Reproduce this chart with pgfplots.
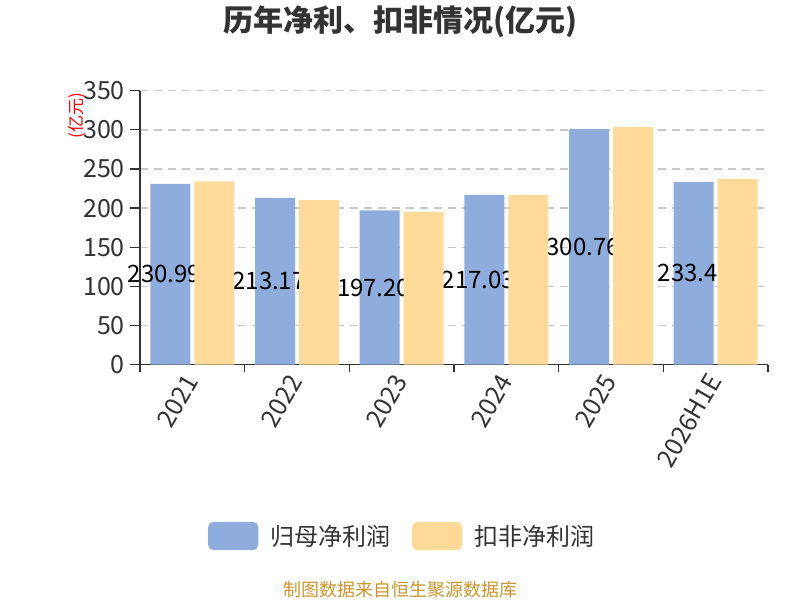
\documentclass[border=0pt]{standalone}
\usepackage{pgfplots}
\pgfplotsset{compat=1.18}
\usepackage{fontspec}
\setmainfont{Noto Sans CJK SC}
\definecolor{cblue}{HTML}{8FADDC}
\definecolor{cyellow}{HTML}{FFDA99}
\definecolor{ctext}{HTML}{333333}
\definecolor{cgrid}{HTML}{C8C8C8}
\definecolor{csrc}{HTML}{C8962D}
\pgfplotsset{
  common/.style={
    at={(140pt,235.3pt)}, anchor=south west,
    scale only axis, width=628pt, height=274pt,
    xmin=-0.5, xmax=5.5, ymin=0, ymax=350,
    ybar, bar width=40pt,
  }
}
\pgfplotstableread{
x y label
0 230.99 230.99
1 213.17 213.17
2 197.20 197.20
3 217.03 217.03
4 300.76 300.76
5 233.4 233.4
}\guimu
\pgfplotstableread{
x y
0 234.2
1 210.3
2 195.0
3 216.7
4 303.6
5 237.1
}\koufei
\begin{document}
\begin{tikzpicture}
\useasboundingbox (0,0) rectangle (800pt,600pt);
\begin{axis}[
  common,
  ytick={0,50,...,350},
  xtick={0,...,5},
  xticklabels={2021,2022,2023,2024,2025,2026H1E},
  minor xtick={-0.5,0.5,...,5.5},
  axis lines=left, axis line style={-, draw=ctext, line width=1.3pt},
  tick align=outside,
  major tick length=10pt, minor tick length=7pt,
  every tick/.style={draw=ctext, line width=1.3pt},
  major x tick style={draw=none},
  ymajorgrids, grid style={cgrid, line width=1.4pt, dash pattern=on 8pt off 6pt},
  /pgf/number format/assume math mode=true,
  ticklabel style={font=\fontsize{25}{29}\selectfont, text=ctext},
  xticklabel style={rotate=60, anchor=east, inner sep=2pt},
  yticklabel style={inner sep=5pt},
  legend columns=2,
  legend image code/.code={\fill[#1, rounded corners=5pt] (0pt,-14pt) rectangle (50pt,14pt);},
  legend style={at={(0.416,-0.625)}, anchor=center, draw=none, fill=none,
    font=\fontsize{24}{28}\selectfont, text=ctext,
    column sep=12pt, nodes={inner xsep=0pt},
    /tikz/every even column/.append style={column sep=22pt}},
]
\addplot[fill=cblue, draw=none, bar shift=-22pt,
  nodes near coords, point meta=explicit symbolic,
  visualization depends on={y \as \rawy},
  every node near coord/.append style={anchor=center, text=black,
    font=\fontsize{24}{28}\selectfont, xshift=-6pt,
    shift={(axis direction cs:0,-\rawy/2)}}]
  table[x=x, y=y, meta=label] {\guimu};
\addlegendentry{归母净利润}
\addlegendimage{fill=cyellow, draw=none}
\addlegendentry{扣非净利润}
\end{axis}
\begin{axis}[common, hide axis]
\addplot[fill=cyellow, draw=none, bar shift=22pt] table[x=x, y=y] {\koufei};
\end{axis}
\node[font=\fontsize{30}{35}\selectfont\bfseries, text=ctext] at (400pt,578pt) {历年净利、扣非情况(亿元)};
\node[font=\fontsize{17}{20}\selectfont, text=red, rotate=90] at (77pt,484pt) {(亿元)};
\node[font=\fontsize{18}{21}\selectfont, text=csrc] at (400pt,10pt) {制图数据来自恒生聚源数据库};
\end{tikzpicture}
\end{document}
